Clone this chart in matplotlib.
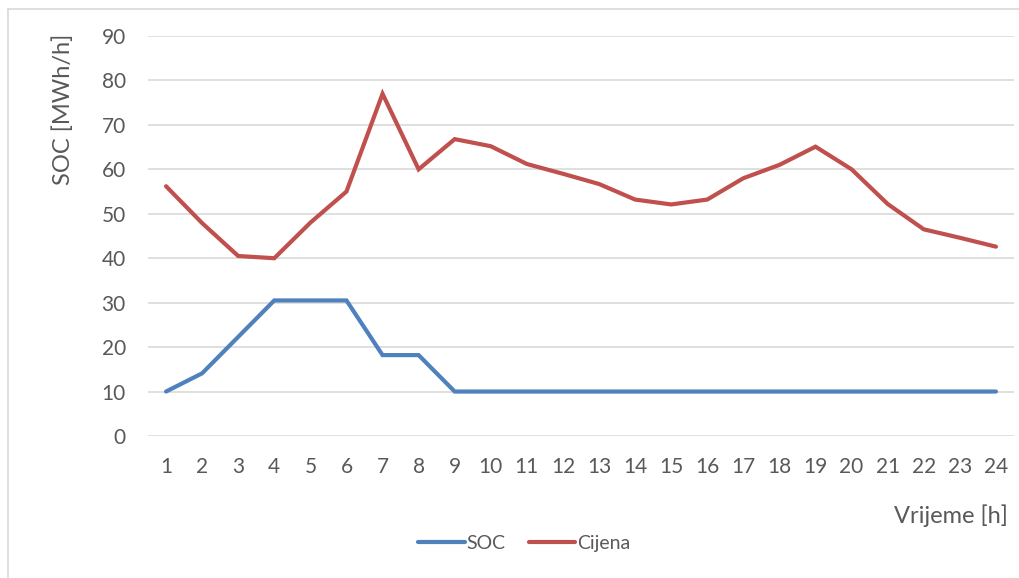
import matplotlib.pyplot as plt
from matplotlib.lines import Line2D

hours = list(range(1, 25))
soc = [10, 14.1, 22.3, 30.5, 30.5, 30.5, 18.2, 18.2, 10, 10, 10, 10,
       10, 10, 10, 10, 10, 10, 10, 10, 10, 10, 10, 10]
cijena = [56.2, 47.9, 40.5, 40.0, 48.0, 55.0, 77.0, 60.0, 66.8, 65.2, 61.2, 59.0,
          56.7, 53.2, 52.1, 53.2, 58.0, 61.0, 65.1, 60.0, 52.2, 46.5, 44.6, 42.6]

plt.rcParams['font.family'] = ['Lato', 'DejaVu Sans']
txt = '#595959'

fig = plt.figure(figsize=(10.2, 5.78), dpi=100)
ax = fig.add_axes([0.1451, 0.2457, 0.849, 0.692])

ax.plot(hours, soc, color='#4F81BD', lw=3, solid_capstyle='round', solid_joinstyle='miter', label='SOC', zorder=3)
ax.plot(hours, cijena, color='#C0504D', lw=3, solid_capstyle='round', solid_joinstyle='miter', label='Cijena', zorder=3)

ax.set_xlim(0.5, 24.5)
ax.set_ylim(0, 90)
ax.set_yticks(range(0, 91, 10))
ax.set_xticks(hours)
ax.grid(axis='y', color='#d9d9d9', lw=1.2)
ax.set_axisbelow(True)
for s in ax.spines.values():
    s.set_visible(False)
ax.tick_params(length=0, labelsize=15, colors=txt)
ax.tick_params(axis='y', pad=16)
ax.tick_params(axis='x', pad=15)

fig.text(0.062, 0.81, 'SOC [MWh/h]', rotation=90, fontsize=17, color=txt, ha='center', va='center')
fig.text(0.988, 0.108, 'Vrijeme [h]', fontsize=17, color=txt, ha='right', va='center')

handles = [Line2D([], [], color='#4F81BD', lw=3, solid_capstyle='round'),
           Line2D([], [], color='#C0504D', lw=3, solid_capstyle='round')]
fig.legend(handles, ['SOC', 'Cijena'], loc='center', bbox_to_anchor=(0.514, 0.06), ncol=2,
           frameon=False, fontsize=14, labelcolor=txt, handlelength=2.4, handletextpad=0.1,
           columnspacing=1.2)

# chart border (top and left)
fig.add_artist(Line2D([0.0078, 1.0], [0.9844, 0.9844], color='#d9d9d9', lw=1.2))
fig.add_artist(Line2D([0.0078, 0.0078], [0.0, 0.9844], color='#d9d9d9', lw=1.2))

plt.savefig('out.png', dpi=100)
